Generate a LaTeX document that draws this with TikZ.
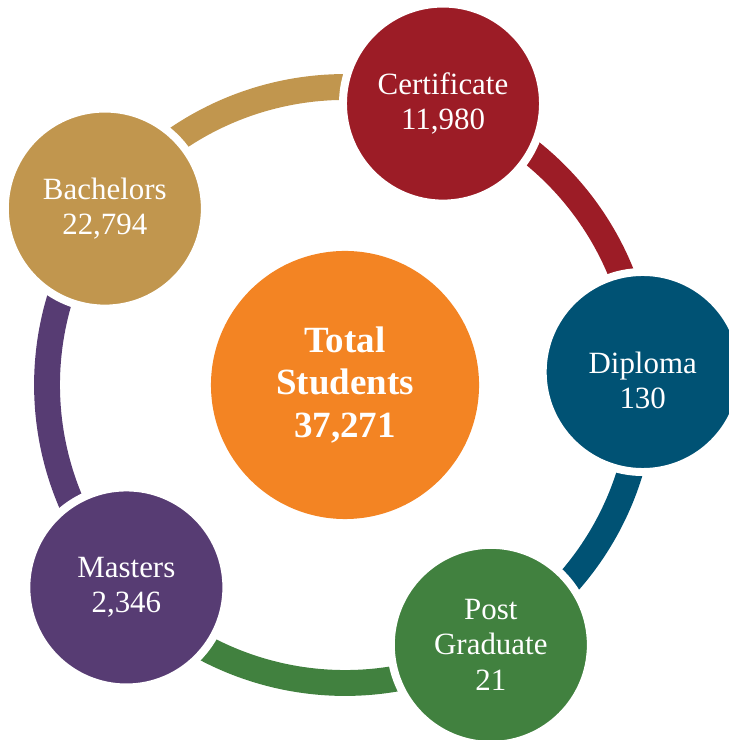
\documentclass[tikz,border=0pt]{standalone}
\usepackage{fontspec}
\setmainfont{Liberation Serif}
\usetikzlibrary{calc,backgrounds}
\definecolor{certred}{RGB}{156,28,38}
\definecolor{diplblue}{RGB}{0,82,116}
\definecolor{pggreen}{RGB}{65,129,63}
\definecolor{mastpurple}{RGB}{87,60,115}
\definecolor{bachtan}{RGB}{193,150,78}
\definecolor{totalorange}{RGB}{243,132,35}

\begin{document}
\begin{tikzpicture}[x=0.025cm, y=0.025cm,
	level/.style={circle, minimum size=5cm, inner sep=0pt, fill=#1, draw=white, line width=5.67pt, text=white, align=center, font=\fontsize{22}{25}\selectfont},
	total/.style={circle, minimum size=6.7cm, inner sep=0pt, fill=totalorange, text=white, align=center, font=\fontsize{26.3}{30}\selectfont\bfseries},
	ringArc/.style={line width=18.4pt, draw=#1}
	]
	\useasboundingbox (0,0) rectangle (728,740);
	\node[total](total) at (345,355) {Total\\Students\\37,271};
	
	\node[level=certred](cert) at ($(total)+(70.8:298)$) {Certificate\\11,980};
	\node[level=diplblue, label={[text=white, align=center, font=\fontsize{22}{25}\selectfont, yshift=-0.2cm]center:Diploma\\130}](dipl) at ($(total)+(2.5:298)$) {};
	\node[level=pggreen](pg) at ($(total)+(-60.7:298)$) {Post\\Graduate\\21};
	\node[level=mastpurple](mast) at ($(total)+(222.8:298)$) {Masters\\2,346};
	\node[level=bachtan](bach) at ($(total)+(143.7:298)$) {Bachelors\\22,794};
	
	\begin{pgfonlayer}{background}
	\draw[ringArc=bachtan] (bach.center) arc[start angle=143.7, end angle=70.8, radius=298];
	\draw[ringArc=certred] (cert.center) arc[start angle=70.8, end angle=2.5, radius=298];
	\draw[ringArc=diplblue] (dipl.center) arc[start angle=2.5, end angle=-60.7, radius=298];
	\draw[ringArc=pggreen] (pg.center) arc[start angle=-60.7, end angle=-137.2, radius=298];
	\draw[ringArc=mastpurple] (mast.center) arc[start angle=222.8, end angle=143.7, radius=298];
	\end{pgfonlayer}
\end{tikzpicture}
\end{document}
